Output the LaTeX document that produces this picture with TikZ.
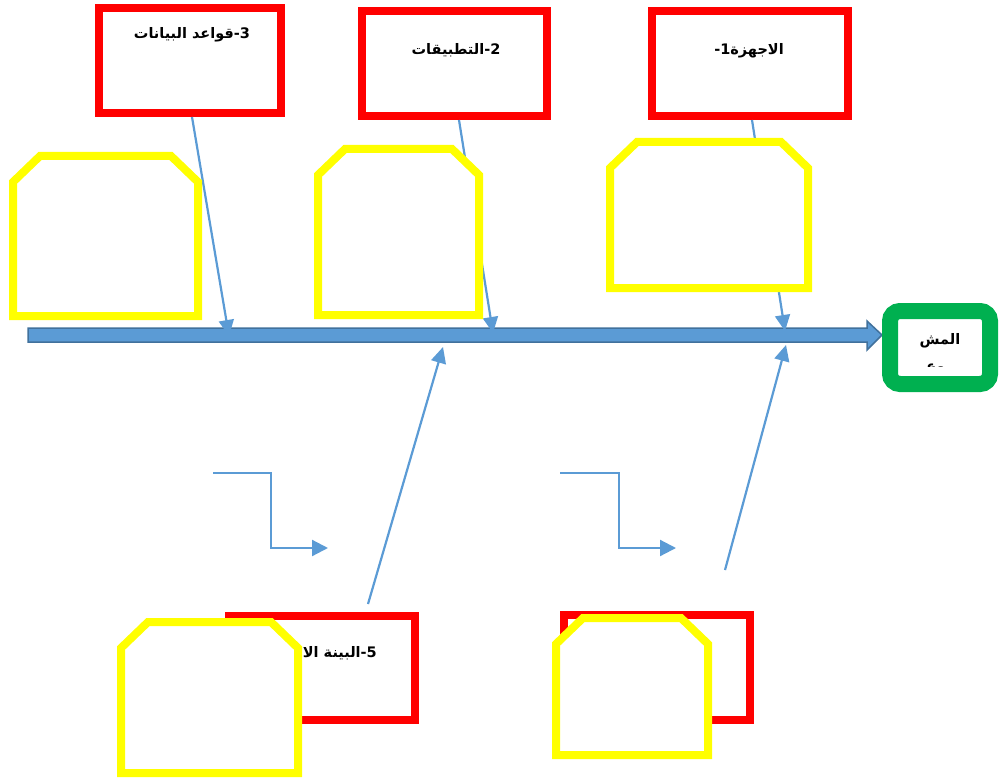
\documentclass[tikz,border=0pt]{standalone}
\usepackage{fontspec}
\usetikzlibrary{arrows.meta}
\TeXXeTstate=1
\newfontfamily\arabicfont[Script=Arabic]{DejaVu Sans}
\definecolor{rd}{HTML}{FF0000}
\definecolor{yl}{HTML}{FFFF00}
\definecolor{gr}{HTML}{00B050}
\definecolor{ln}{HTML}{5B9BD5}
\definecolor{dk}{HTML}{41719C}
\tikzset{
  redbox/.style={draw=rd, line width=7.5pt, fill=white, inner sep=0pt},
  yel/.style={draw=yl, line width=8pt, fill=white, line join=miter},
  lbl/.style={font=\arabicfont\bfseries\fontsize{14.5}{16}\selectfont, inner sep=0pt},
  cause/.style={draw=ln, line width=2.2pt, -{Triangle[length=16pt,width=15pt]}},
  elbow/.style={draw=ln, line width=2.2pt, -{Triangle[length=16pt,width=16pt]}},
  spine/.style={draw=dk, line width=1.5pt, fill=ln},
  goal/.style={draw=gr, line width=16pt, fill=white, rounded corners=10pt, inner sep=0pt}
}
\newcommand\yelbox[4]{\draw[yel] (#1,#4) -- (#1,#2+26) -- (#1+27,#2) -- (#3-27,#2) -- (#3,#2+26) -- (#3,#4) -- cycle;}
\begin{document}
\begin{tikzpicture}[x=1pt,y=-1pt]
\useasboundingbox (0,0) rectangle (1000,778);
% spine
\draw[spine] (28,328) -- (867,328) -- (867,321) -- (882,335) -- (867,350) -- (867,342) -- (28,342) -- cycle;
% red boxes
\node[redbox, minimum width=182pt, minimum height=105pt] (b3) at (190,60.5) {};
\node[redbox, minimum width=185pt, minimum height=105pt] (b2) at (454.5,63.5) {};
\node[redbox, minimum width=196pt, minimum height=105pt] (b1) at (750,63.5) {};
\node[redbox, minimum width=186pt, minimum height=104pt] (b5) at (322,668) {};
\node[redbox, minimum width=186pt, minimum height=105pt] (b4) at (657,667.5) {};
% labels
\node[lbl] (t3) at (192,35) {\beginR 3-قواعد البيانات\endR};
\node[lbl] (t2) at (456,50) {\beginR 2-التطبيقات\endR};
\node[lbl] (t1) at (749,51) {\beginR الاجهزة1-\endR};
\node[lbl, anchor=east] (t5) at (377,653) {\beginR 5-البينة الا\endR};
% connector end points
\coordinate (a0) at (192,117);
\coordinate (a1) at (229,336);
\coordinate (bb0) at (459,120);
\coordinate (bb1) at (493,333);
\coordinate (c0) at (752,120);
\coordinate (c1) at (785,331);
\coordinate (d0) at (368,604);
\coordinate (d1) at (443,347);
\coordinate (e0) at (725,570);
\coordinate (e1) at (786,345);
\coordinate (f0) at (213,473);
\coordinate (f1) at (328,548);
\coordinate (g0) at (560,473);
\coordinate (g1) at (676,548);
\draw[cause] (a0) -- (a1);
\draw[cause] (bb0) -- (bb1);
\draw[cause] (c0) -- (c1);
\draw[cause] (d0) -- (d1);
\draw[cause] (e0) -- (e1);
\draw[elbow] (f0) -- (271,473) |- (f1);
\draw[elbow] (g0) -- (619,473) |- (g1);
% yellow boxes
\yelbox{13}{156}{198}{316}
\yelbox{318}{149}{479}{315}
\yelbox{610}{142}{808}{288}
\yelbox{121}{622}{298}{773}
\yelbox{556}{618}{708}{755}
% goal
\node[goal, minimum width=100pt, minimum height=73pt] (g) at (940,347.5) {};
\node[lbl] (gt1) at (940,341) {\beginR المش\endR};
\begin{scope}
\clip (898,319) rectangle (982,366);
\node[lbl, anchor=base] (gt2) at (940,371) {\beginR روع\endR};
\end{scope}
\end{tikzpicture}
\end{document}
